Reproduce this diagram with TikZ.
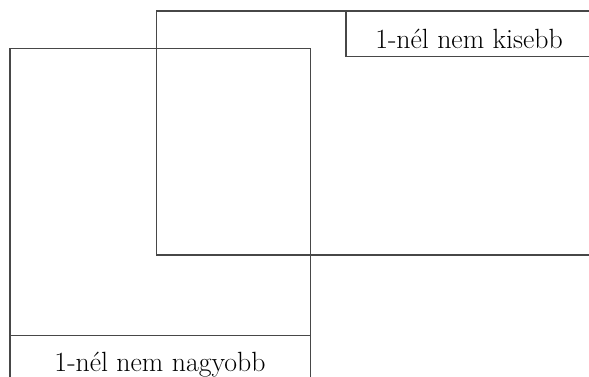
\documentclass[tikz,border=0pt]{standalone}
\usepackage{fontspec}
\begin{document}
\begin{tikzpicture}[x=1pt,y=1pt,
  frame/.style={draw=black!72,line width=1.1pt},
  lbl/.style={font=\fontsize{27.8}{32}\selectfont,text=black,inner sep=0pt,anchor=base}]
\useasboundingbox (0,0) rectangle (589,376);
\clip (0,0) rectangle (589,376);
% right region
\coordinate (r1) at (156.5,365);
\coordinate (r2) at (600,121);
\draw[frame] (r1) rectangle (r2);
\coordinate (rl1) at (346,365);
\coordinate (rl2) at (600,319.5);
\draw[frame] (rl1) rectangle (rl2);
\node[lbl] (kisebb) at (469,327.5) {1-nél nem kisebb};
% left region
\coordinate (l1) at (10,327.5);
\coordinate (l2) at (310.5,-10);
\draw[frame] (l1) rectangle (l2);
\coordinate (ll1) at (10,40.3);
\coordinate (ll2) at (310.5,40.3);
\draw[frame] (ll1) -- (ll2);
\node[lbl] (nagyobb) at (160,4.3) {1-nél nem nagyobb};
\end{tikzpicture}
\end{document}
